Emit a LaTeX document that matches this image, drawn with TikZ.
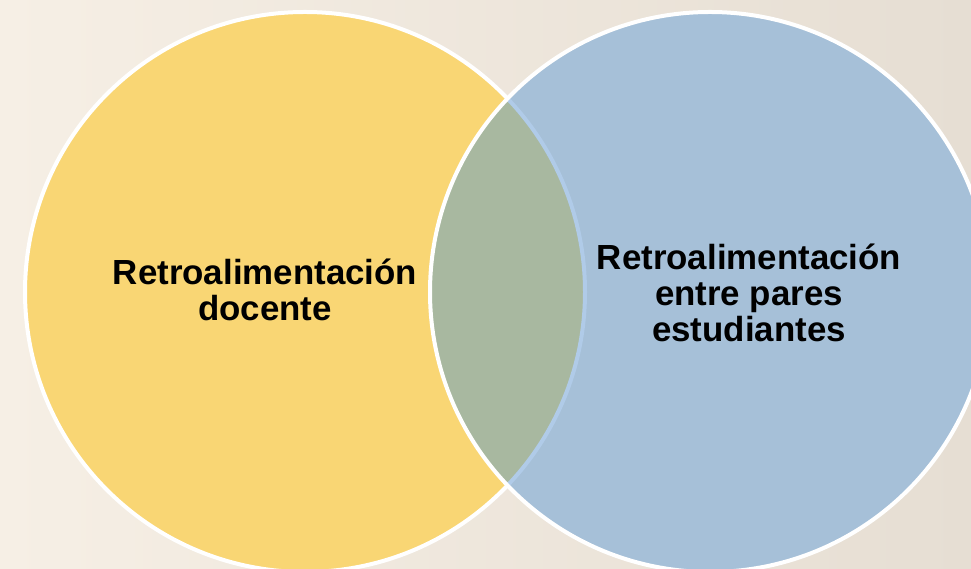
\documentclass[tikz,border=0pt]{standalone}
\usepackage{fontspec}
\setmainfont{Liberation Sans}
\usepackage{tikz}

\definecolor{fondoA}{HTML}{F6EFE5}
\definecolor{fondoB}{HTML}{E6DED3}
\definecolor{amarillo}{HTML}{F9D674}
\definecolor{azul}{HTML}{A6C0D8}
\definecolor{verde}{HTML}{A8B8A0}
\definecolor{azulclaro}{HTML}{B0CBE8}

\begin{document}
\begin{tikzpicture}[x=1bp,y=1bp,
  borde/.style={white, line width=4bp},
  texto/.style={align=center, font=\bfseries\fontsize{35}{36}\selectfont}]

\useasboundingbox (0,0) rectangle (971,569);
\clip (0,0) rectangle (971,569);
\shade[left color=fondoA, right color=fondoB] (0,0) rectangle (971,569);

\coordinate (cizq) at (305,277);
\coordinate (cder) at (710,277);

% circulo izquierdo
\fill[amarillo] (cizq) circle (280);
\draw[borde] (cizq) circle (280);

% circulo derecho
\fill[azul] (cder) circle (280);

% interseccion
\begin{scope}
  \clip (cizq) circle (280);
  \fill[verde] (cder) circle (280);
\end{scope}
\begin{scope}
  \clip (cder) circle (280);
  \draw[azulclaro, line width=4bp] (cizq) circle (280);
\end{scope}
\draw[borde] (cder) circle (280);

\node[texto] (docente) at (265,279) {Retroalimentación\\docente};
\node[texto] (pares) at (749,276) {Retroalimentación\\entre pares\\estudiantes};

\end{tikzpicture}
\end{document}
